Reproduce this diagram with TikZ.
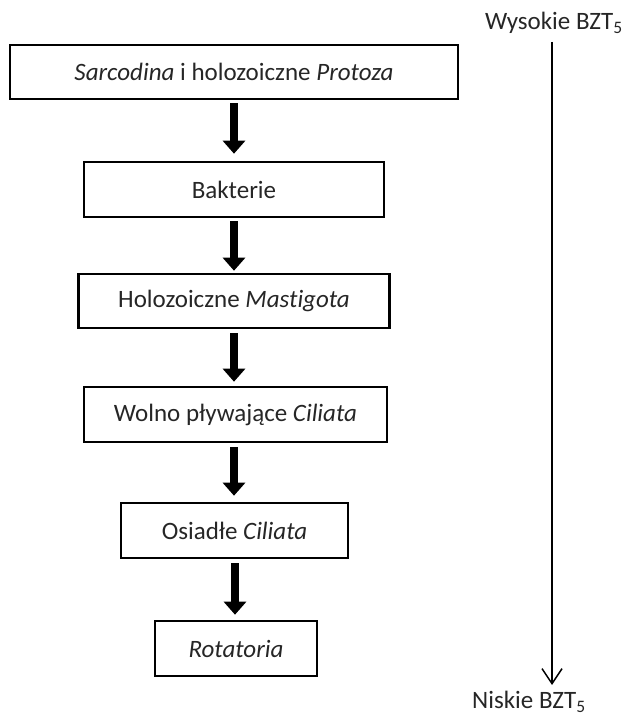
\documentclass[tikz,border=0pt]{standalone}
\usepackage{fontspec}
\setmainfont[Ligatures=NoCommon]{Carlito}
\usetikzlibrary{arrows.meta}
\begin{document}
\begin{tikzpicture}[x=1pt,y=1pt,
  txt/.style={text=black!85, font=\fontsize{25}{30}\selectfont},
  box/.style={txt, draw=black, line width=2.6pt, rectangle, inner sep=0pt, align=center},
  bigarrow/.style={line width=8pt, -{Triangle[width=22pt,length=13pt]}},
  scale arrow/.style={line width=1.5pt, -{Straight Barb[width=20pt,length=15pt,line width=1.5pt]}}
]
\useasboundingbox (0,0) rectangle (625,716);
% boxes (centers from top-left pixel coords, y flipped)
\node[box, minimum width=448pt, minimum height=54pt] (b1) at (234,644) {\textit{Sarcodina} i holozoiczne \textit{Protoza}};
\node[box, minimum width=300pt, minimum height=55pt] (b2) at (234,526.5) {Bakterie};
\node[box, minimum width=311pt, minimum height=54pt] (b3) at (234,415) {Holozoiczne \textit{Mastigota}};
\node[box, minimum width=303pt, minimum height=55pt] (b4) at (235.5,301.5) {Wolno pływające \textit{Ciliata}};
\node[box, minimum width=227pt, minimum height=55pt] (b5) at (234.5,185.5) {Osiadłe \textit{Ciliata}};
\node[box, minimum width=162pt, minimum height=55pt] (b6) at (236,67.5) {\textit{Rotatoria}};
% arrows between boxes
\draw[bigarrow, shorten <=3pt, shorten >=7pt] (b1.south -| 234,0) -- (b2.north -| 234,0);
\draw[bigarrow, shorten <=3pt, shorten >=2pt] (b2.south -| 234,0) -- (b3.north -| 234,0);
\draw[bigarrow, shorten <=4pt, shorten >=4pt] (b3.south -| 234,0) -- (b4.north -| 234,0);
\draw[bigarrow, shorten <=4pt, shorten >=6pt] (b4.south -| 234,0) -- (b5.north -| 234,0);
\draw[bigarrow, shorten <=4pt, shorten >=5pt] (b5.south -| 235,0) -- (b6.north -| 235,0);
% BOD scale
\node[txt, anchor=base west, inner sep=0pt] (hi) at (485,686) {Wysokie BZT\textsubscript{5}};
\node[txt, anchor=base west, inner sep=0pt] (lo) at (472,7) {Niskie BZT\textsubscript{5}};
\coordinate (top) at (552,674);
\coordinate (bot) at (552,31);
\draw[scale arrow] (top) -- (bot);
\end{tikzpicture}
\end{document}
